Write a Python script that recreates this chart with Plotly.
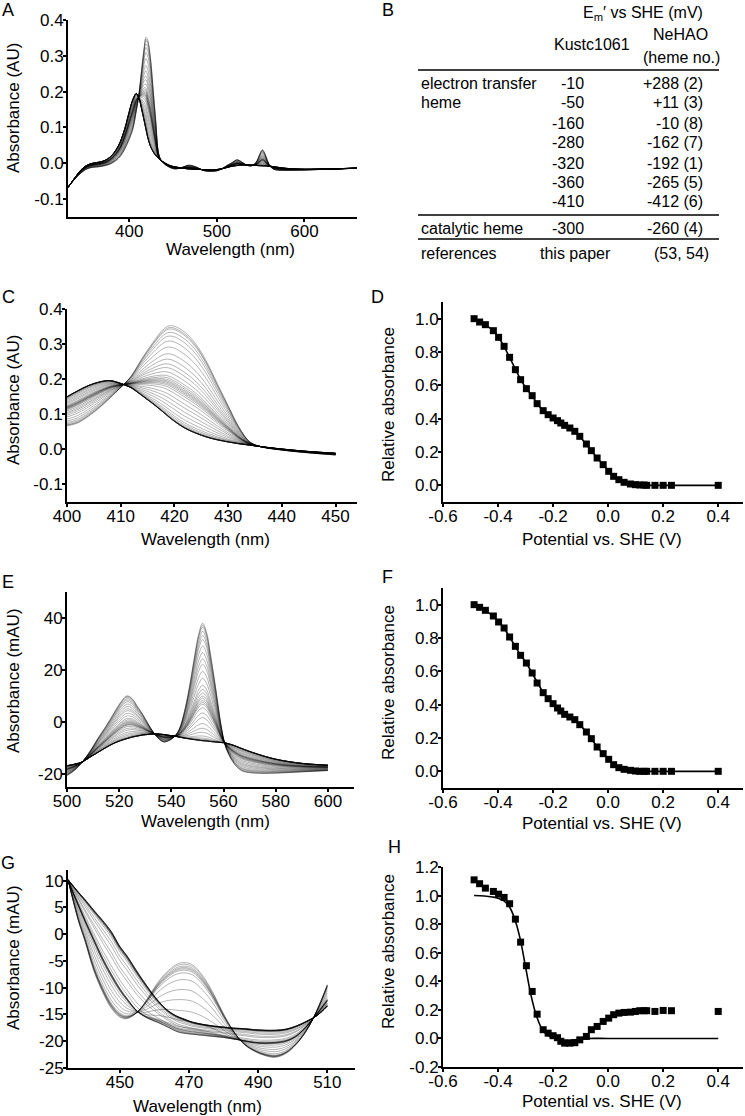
import numpy as np
import plotly.graph_objects as go

FONT = "Liberation Sans, Arial, Helvetica, sans-serif"
W, H = 745, 1116

# ---- redox titration points (shared potentials for D, F, H), V vs SHE
pot = [-0.487, -0.467, -0.446, -0.417, -0.398, -0.378, -0.358, -0.337, -0.318, -0.297,
       -0.276, -0.258, -0.236, -0.218, -0.200, -0.184, -0.172, -0.158, -0.139, -0.121,
       -0.103, -0.079, -0.061, -0.040, -0.018, 0.002, 0.020, 0.039, 0.058, 0.081,
       0.099, 0.115, 0.131, 0.140, 0.170, 0.200, 0.230, 0.400]
rel_d = [1.0, 0.98, 0.964, 0.928, 0.888, 0.834, 0.768, 0.694, 0.634, 0.58,
         0.538, 0.49, 0.448, 0.424, 0.404, 0.388, 0.374, 0.36, 0.344, 0.324,
         0.294, 0.248, 0.208, 0.164, 0.124, 0.084, 0.054, 0.034, 0.018, 0.008,
         0.004, 0.002, 0.002, 0.0, 0.0, 0.0, 0.0, 0.0]
rel_f = [1.0, 0.984, 0.966, 0.932, 0.896, 0.86, 0.806, 0.75, 0.696, 0.65,
         0.59, 0.53, 0.472, 0.436, 0.406, 0.38, 0.362, 0.342, 0.326, 0.31,
         0.28, 0.236, 0.196, 0.146, 0.106, 0.072, 0.04, 0.022, 0.012, 0.006,
         0.002, 0.0, 0.0, 0.0, 0.0, 0.0, 0.0, 0.0]
rel_h = [1.11, 1.083, 1.052, 1.029, 1.01, 0.987, 0.943, 0.835, 0.674, 0.509,
         0.329, 0.17, 0.061, 0.037, 0.019, 0.005, -0.02, -0.033, -0.033, -0.03,
         -0.01, 0.014, 0.061, 0.084, 0.119, 0.142, 0.166, 0.177, 0.182, 0.184,
         0.189, 0.194, 0.194, 0.194, 0.189, 0.196, 0.194, 0.189]
# fitted curve in H
hfit_pot = [-0.487, -0.45, -0.42, -0.40, -0.38, -0.36, -0.34, -0.32, -0.30, -0.28,
            -0.26, -0.24, -0.22, -0.20, -0.18, -0.16, -0.13, -0.10, -0.07, 0.0, 0.4]
hfit_val = [1.0, 0.997, 0.99, 0.982, 0.965, 0.925, 0.84, 0.70, 0.50, 0.30,
            0.155, 0.065, 0.022, 0.004, -0.006, -0.011, -0.012, -0.006, 0.0, 0.0, 0.0]

# ---- spectra of the end states
a_wl = [330, 335, 340, 345, 350, 355, 360, 365, 370, 375, 380, 385, 390, 395, 400,
        404, 408, 411, 414, 417, 419, 421, 424, 427, 430, 434, 438, 445, 452, 460,
        466, 469, 472, 478, 485, 492, 500, 507, 512, 517, 521, 523, 526, 530, 534,
        538, 542, 546, 549, 552, 555, 558, 561, 565, 570, 580, 600, 630, 660]
a_ox = [-0.068, -0.05, -0.033, -0.018, -0.008, -0.002, 0.001, 0.003, 0.006, 0.012,
        0.022, 0.038, 0.062, 0.098, 0.145, 0.178, 0.195, 0.182, 0.152, 0.118,
        0.095, 0.072, 0.048, 0.033, 0.022, 0.012, 0.005, -0.005, -0.01, -0.013,
        -0.0155, -0.016, -0.0166, -0.0172, -0.0177, -0.018, -0.0174, -0.0147, -0.0115, -0.0085,
        -0.007, -0.0064, -0.0055, -0.0049, -0.0046, -0.005, -0.0056, -0.0064, -0.0069, -0.0072,
        -0.0075, -0.0078, -0.0082, -0.0095, -0.0113, -0.0143, -0.0166, -0.0155, -0.0135]
a_red = [-0.066, -0.052, -0.038, -0.027, -0.018, -0.013, -0.011, -0.01, -0.008, -0.005,
         0.0, 0.008, 0.02, 0.04, 0.067, 0.094, 0.146, 0.192, 0.26, 0.325,
         0.352, 0.345, 0.30, 0.215, 0.125, 0.022, 0.003, -0.01, -0.0158, -0.012,
         -0.0058, -0.0053, -0.0065, -0.012, -0.0205, -0.0226, -0.0211, -0.0135, -0.0055, 0.0015,
         0.0082, 0.0101, 0.0075, 0.001, -0.005, -0.0075, -0.0045, 0.008, 0.026, 0.038,
         0.026, 0.006, -0.009, -0.017, -0.0195, -0.0197, -0.0187, -0.0165, -0.014]

c_wl = [400, 402, 404, 406, 408, 410, 411, 412, 414, 416, 418, 419, 420, 422, 424,
        426, 428, 430, 432, 434, 436, 440, 445, 450]
c_ox = [0.150, 0.167, 0.182, 0.192, 0.196, 0.188, 0.182, 0.175, 0.153, 0.130, 0.105, 0.092,
        0.080, 0.060, 0.046, 0.035, 0.027, 0.021, 0.016, 0.012, 0.008, 0.001, -0.006, -0.011]
c_red = [0.067, 0.075, 0.094, 0.118, 0.146, 0.176, 0.192, 0.210, 0.260, 0.305, 0.343, 0.352,
         0.351, 0.333, 0.300, 0.250, 0.187, 0.125, 0.064, 0.022, 0.008, -0.002, -0.010, -0.016]

e_wl = [500, 503, 506, 509, 512, 515, 518, 521, 523, 525, 527, 529, 531, 533, 535, 537,
        539, 541, 543, 545, 547, 549, 550.5, 552, 553.5, 555, 557, 559, 560.5, 562, 564,
        567, 572, 580, 590, 600]
e_ox = [-16.8, -16.2, -15.3, -13.4, -11.6, -9.8, -8.2, -7.0, -6.4, -5.8, -5.4, -5.0, -4.8,
        -4.6, -4.6, -4.8, -5.1, -5.4, -5.8, -6.2, -6.5, -6.8, -7.0, -7.2, -7.3, -7.5, -7.7,
        -7.9, -8.0, -8.4, -9.0, -10.2, -12.0, -14.3, -15.9, -16.6]
e_red = [-20.6, -18.5, -15.2, -11.0, -6.0, -1.5, 3.5, 8.2, 10.1, 9.0, 6.0, 3.0, -0.5, -3.8,
         -6.3, -7.7, -7.2, -5.8, -2.8, 4.0, 14.0, 26.0, 34.0, 38.0, 34.5, 26.0, 13.0, -1.0,
         -8.5, -12.5, -16.0, -18.8, -19.7, -19.7, -19.2, -18.7]

g_wl = [435, 438, 440, 442.5, 445, 447.5, 450, 452, 455, 458, 461, 464, 466.5, 468.5,
        471, 474, 477, 480, 483, 486, 489, 492, 495, 498, 501, 504, 507, 510]
g_red = [10.2, 2.5, -1.5, -6.9, -10.8, -13.8, -15.5, -15.8, -14.6, -12.0, -9.0, -6.8, -5.6,
         -5.3, -5.7, -7.8, -11.0, -14.9, -18.2, -20.6, -21.9, -22.7, -23.0, -22.3, -20.6,
         -18.0, -14.2, -9.4]
g_mid = [10.0, 5.5, 2.5, -1.0, -4.5, -7.5, -10.2, -12.0, -14.4, -15.7, -16.5, -17.4, -18.2,
         -18.5, -18.7, -18.9, -19.1, -19.3, -19.6, -19.9, -20.2, -20.3, -20.2, -19.9, -19.0,
         -17.2, -14.9, -12.4]
g_ox = [10.2, 7.8, 6.3, 4.3, 2.4, 0.3, -2.5, -4.2, -7.2, -10.0, -12.5, -14.4, -15.4, -15.9,
        -16.5, -16.9, -17.2, -17.4, -17.6, -17.7, -17.9, -18.0, -18.0, -17.8, -17.2, -16.3,
        -15.2, -13.4]

# ---- table B
tb_rows = ["-10", "-50", "-160", "-280", "-320", "-360", "-410"]
tb_nehao = ["+288 (2)", "+11 (3)", "-10 (8)", "-162 (7)", "-192 (1)", "-265 (5)", "-412 (6)"]
tb_cat = ["-300", "-260 (4)"]
tb_ref = ["this paper", "(53, 54)"]

# ---- ticks
a_xt = [400, 500, 600]
abs_yt = [-0.1, 0.0, 0.1, 0.2, 0.3, 0.4]
c_xt = [400, 410, 420, 430, 440, 450]
pot_xt = [-0.6, -0.4, -0.2, 0.0, 0.2, 0.4]
rel_yt = [0.0, 0.2, 0.4, 0.6, 0.8, 1.0]
e_xt = [500, 520, 540, 560, 580, 600]
e_yt = [-20, 0, 20, 40]
g_xt = [450, 470, 490, 510]
g_yt = [-25, -20, -15, -10, -5, 0, 5, 10]
h_yt = [-0.2, 0.0, 0.2, 0.4, 0.6, 0.8, 1.0, 1.2]


def f1(v):
    return [f"{x:.1f}" for x in v]


def fi(v):
    return [str(x) for x in v]


LINE = "rgba(0,0,0,0.33)"
fig = go.Figure()


def add_mix(wl, ox, red, fracs, xa, ya):
    ox = np.array(ox)
    red = np.array(red)
    for f in fracs:
        fig.add_trace(go.Scatter(x=wl, y=ox + f * (red - ox), mode="lines",
                                 line=dict(color=LINE, width=0.9, shape="spline"),
                                 xaxis=xa, yaxis=ya, showlegend=False, hoverinfo="skip"))


add_mix(a_wl, a_ox, a_red, rel_d, "x", "y")
add_mix(c_wl, c_ox, c_red, rel_d, "x2", "y2")
add_mix(e_wl, e_ox, e_red, rel_f, "x4", "y4")

# G: three states (reduced, intermediate minimum, oxidized)
hmin = min(rel_h)
gm, gr, go_ = np.array(g_mid), np.array(g_red), np.array(g_ox)
imin = rel_h.index(hmin)
for i, h in enumerate(rel_h):
    if i <= imin:
        y = gm + (h - hmin) / (rel_h[0] - hmin) * (gr - gm)
    else:
        y = gm + (h - hmin) / (rel_h[-1] - hmin) * (go_ - gm)
    fig.add_trace(go.Scatter(x=g_wl, y=y, mode="lines",
                             line=dict(color=LINE, width=0.9, shape="spline"),
                             xaxis="x6", yaxis="y6", showlegend=False, hoverinfo="skip"))

mk = dict(symbol="square", size=7, color="black")
fig.add_trace(go.Scatter(x=pot, y=rel_d, mode="lines+markers", marker=mk,
                         line=dict(color="black", width=1.6), xaxis="x3", yaxis="y3", showlegend=False))
fig.add_trace(go.Scatter(x=pot, y=rel_f, mode="lines+markers", marker=mk,
                         line=dict(color="black", width=1.6), xaxis="x5", yaxis="y5", showlegend=False))
fig.add_trace(go.Scatter(x=hfit_pot, y=hfit_val, mode="lines",
                         line=dict(color="black", width=1.6, shape="spline"),
                         xaxis="x7", yaxis="y7", showlegend=False))
fig.add_trace(go.Scatter(x=pot, y=rel_h, mode="markers", marker=mk,
                         xaxis="x7", yaxis="y7", showlegend=False))

TICKF = dict(family=FONT, size=17, color="black")


def axes(n, xpx, ypx, xr, yr, xt, xtt, yt, ytt):
    sx = "" if n == 1 else str(n)
    common = dict(showline=True, linecolor="black", linewidth=2, ticks="outside", ticklen=3,
                  tickwidth=1.5, tickcolor="black", showgrid=False, zeroline=False,
                  tickfont=TICKF, fixedrange=True, automargin=False)
    fig.layout["xaxis" + sx] = dict(domain=[xpx[0] / W, xpx[1] / W], range=xr, anchor="y" + sx,
                                    tickmode="array", tickvals=xt, ticktext=xtt,
                                    ticklabelstandoff=-5, **common)
    fig.layout["yaxis" + sx] = dict(domain=[1 - ypx[1] / H, 1 - ypx[0] / H], range=yr,
                                    anchor="x" + sx, tickmode="array", tickvals=yt,
                                    ticktext=ytt, ticklabelstandoff=-4, **common)


axes(1, (68, 357), (20, 217), [330, 660], [-0.15, 0.4], a_xt, fi(a_xt), abs_yt, f1(abs_yt))
axes(2, (67, 357), (309, 502), [400, 454], [-0.15, 0.4], c_xt, fi(c_xt), abs_yt, f1(abs_yt))
axes(3, (443, 743), (302, 502), [-0.6, 0.49], [-0.1, 1.1], pot_xt, f1(pot_xt), rel_yt, f1(rel_yt))
axes(4, (67, 354), (592, 787), [500, 610], [-25, 50], e_xt, fi(e_xt), e_yt, fi(e_yt))
axes(5, (443, 743), (588, 788), [-0.6, 0.49], [-0.1, 1.1], pot_xt, f1(pot_xt), rel_yt, f1(rel_yt))
axes(6, (68, 355), (870, 1068), [435, 518], [-25, 12], g_xt, fi(g_xt), g_yt, fi(g_yt))
axes(7, (443, 743), (867, 1067), [-0.6, 0.49], [-0.2, 1.2], pot_xt, f1(pot_xt), h_yt, f1(h_yt))

ann = []


def text(s, x, y, size=16, xanchor="center", angle=0):
    ann.append(dict(text=s, x=x / W, y=1 - y / H, xref="paper", yref="paper", showarrow=False,
                    xanchor=xanchor, yanchor="middle", textangle=angle,
                    font=dict(family=FONT, size=size, color="black")))


# panel letters
for s, x, y in [("A", 8, 10), ("B", 388, 10), ("C", 8, 297), ("D", 377, 297),
                ("E", 8, 582), ("F", 388, 577), ("G", 8, 863), ("H", 394, 847)]:
    text(s, x, y, size=18)

# axis titles
for s, x, y in [("Wavelength (nm)", 231, 249), ("Wavelength (nm)", 205, 539),
                ("Wavelength (nm)", 205, 821), ("Wavelength (nm)", 197, 1106),
                ("Potential vs. SHE (V)", 602, 539), ("Potential vs. SHE (V)", 602, 823),
                ("Potential vs. SHE (V)", 602, 1101)]:
    text(s, x, y, size=17)
for s, x, y in [("Absorbance (AU)", 13, 108), ("Absorbance (AU)", 13, 400),
                ("Absorbance (mAU)", 13, 681), ("Absorbance (mAU)", 13, 958),
                ("Relative absorbance", 388, 404), ("Relative absorbance", 388, 682),
                ("Relative absorbance", 388, 951)]:
    text(s, x, y, size=17, angle=-90)

# table B
text("E<sub>m</sub>′ vs SHE (mV)", 643, 13)
text("Kustc1061", 592, 45)
text("NeHAO", 680, 34)
text("(heme no.)", 681, 58)
text("electron transfer", 419, 83, xanchor="left")
text("heme", 419, 103, xanchor="left")
row_y = [83, 103, 123, 143, 163, 182, 201]
for ry, k, n in zip(row_y, tb_rows, tb_nehao):
    text(k, 586, ry, xanchor="right")
    text(n, 705, ry, xanchor="right")
text("catalytic heme", 419, 228, xanchor="left")
text(tb_cat[0], 586, 228, xanchor="right")
text(tb_cat[1], 705, 228, xanchor="right")
text("references", 419, 254, xanchor="left")
text(tb_ref[0], 575, 254)
text(tb_ref[1], 711, 254, xanchor="right")

shapes = [dict(type="line", xref="paper", yref="paper", x0=418 / W, x1=719 / W,
               y0=1 - yy / H, y1=1 - yy / H, line=dict(color="black", width=1.6))
          for yy in (70, 215, 239)]

fig.update_layout(template="none", width=W, height=H,
                  margin=dict(l=0, r=0, t=0, b=0, pad=0, autoexpand=False),
                  paper_bgcolor="white", plot_bgcolor="white",
                  annotations=ann, shapes=shapes, showlegend=False)

# drop the page's default body margin so the figure sits at the window's corner
fig.write_html("out.html", config={"displayModeBar": False},
               post_script="document.body.style.margin = '0px';")
